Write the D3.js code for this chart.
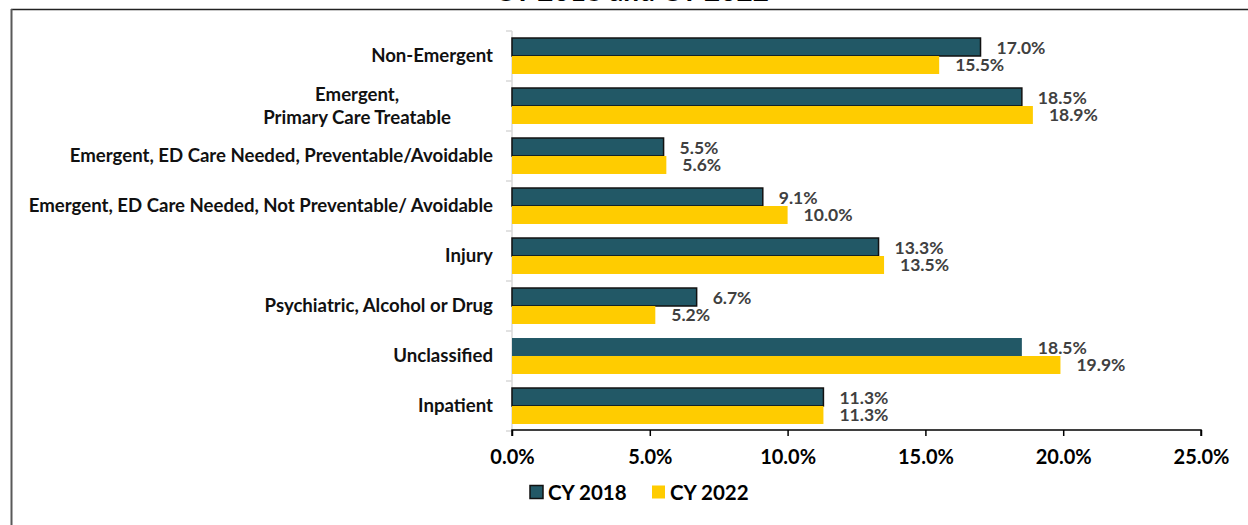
<!DOCTYPE html>
<html>
<head>
<meta charset="utf-8">
<script src="https://cdn.jsdelivr.net/npm/d3@7"></script>
<style>
  body { margin: 0; background: #fff; }
  svg { display: block; font-family: Lato, "Open Sans", sans-serif; font-weight: bold; }
</style>
</head>
<body>
<div id="graf"></div>
<script>
const categorias = [
  "Non-Emergent",
  "Emergent,|Primary Care Treatable",
  "Emergent, ED Care Needed, Preventable/Avoidable",
  "Emergent, ED Care Needed, Not Preventable/ Avoidable",
  "Injury",
  "Psychiatric, Alcohol or Drug",
  "Unclassified",
  "Inpatient"
]
const series = ["CY 2018", "CY 2022"]
const cy2018 = [17.0, 18.5, 5.5, 9.1, 13.3, 6.7, 18.5, 11.3]
const cy2022 = [15.5, 18.9, 5.6, 10.0, 13.5, 5.2, 19.9, 11.3]
const ticks = [0, 5, 10, 15, 20, 25]

const colores = { "CY 2018": "#225866", "CY 2022": "#FFCC00" }

const anchoTotal = 1248
const altoTotal = 525
const margins = { left: 512, top: 31, right: 47, bottom: 94 }
const ancho = anchoTotal - margins.left - margins.right
const alto = altoTotal - margins.top - margins.bottom

const svg = d3.select("#graf")
  .append("svg")
  .attr("width", anchoTotal)
  .attr("height", altoTotal)

// marco
svg.append("line")
  .attr("x1", 11).attr("x2", anchoTotal).attr("y1", 9.5).attr("y2", 9.5)
  .attr("stroke", "#222").attr("stroke-width", 1.5)
svg.append("line")
  .attr("x1", 11.5).attr("x2", 11.5).attr("y1", 9).attr("y2", altoTotal)
  .attr("stroke", "#595959").attr("stroke-width", 2)

// titulo (cortado arriba)
svg.append("text")
  .attr("x", 632).attr("y", 0.5)
  .attr("text-anchor", "middle")
  .attr("font-size", 28)
  .attr("fill", "#000")
  .text("CY 2018 and CY 2022")

const g = svg.append("g")
  .attr("transform", `translate(${margins.left}, ${margins.top})`)

const x = d3.scaleLinear().domain([0, 25]).range([0, ancho])
const y = d3.scaleBand().domain(categorias).range([0, alto])
const ySub = d3.scaleBand().domain(series).range([0, y.bandwidth()]).paddingOuter(0.39)

const data = categorias.map((c, i) => ({
  cat: c,
  valores: [
    { serie: "CY 2018", valor: cy2018[i] },
    { serie: "CY 2022", valor: cy2022[i] }
  ]
}))

// eje y (gris claro)
const yAxis = g.append("g").attr("class", "ejeY")
yAxis.append("line")
  .attr("x1", 0).attr("x2", 0).attr("y1", 0).attr("y2", alto)
  .attr("stroke", "#d9d9d9").attr("stroke-width", 1.5)
yAxis.selectAll(".tick")
  .data(d3.range(categorias.length + 1))
  .enter()
  .append("line")
  .attr("x1", -6).attr("x2", 0)
  .attr("y1", (d) => d * y.step()).attr("y2", (d) => d * y.step())
  .attr("stroke", "#d9d9d9").attr("stroke-width", 1.5)

// etiquetas de categorias
const etiquetas = g.selectAll(".cat")
  .data(categorias)
  .enter()
  .append("text")
  .attr("class", "cat")
  .attr("font-size", 18.6)
  .attr("fill", "#111")
  .attr("text-anchor", "middle")

etiquetas.each(function (d) {
  const t = d3.select(this)
  const lineas = d.split("|")
  const yc = y(d) + y.bandwidth() / 2 - 1
  lineas.forEach((l, j) => {
    t.append("tspan")
      .attr("dy", j == 0 ? 0 : 23)
      .text(l)
  })
  // ancho del bloque de texto
  const w = this.getBBox().width
  const cx = -19 - w / 2
  t.selectAll("tspan").attr("x", cx)
  t.attr("y", yc - (lineas.length - 1) * 11.5)
    .attr("dominant-baseline", "central")
})

// barras
const grupos = g.selectAll(".grupo")
  .data(data)
  .enter()
  .append("g")
  .attr("transform", (d) => `translate(0, ${y(d.cat)})`)

grupos.selectAll("rect")
  .data((d) => d.valores.map((v) => ({ ...v, cat: d.cat })))
  .enter()
  .append("rect")
  .attr("x", 0)
  .attr("y", (d) => ySub(d.serie))
  .attr("width", (d) => x(d.valor))
  .attr("height", ySub.bandwidth())
  .attr("fill", (d) => colores[d.serie])
  .attr("stroke", (d) => (d.serie == "CY 2018" && d.cat != "Unclassified") ? "#111" : "none")
  .attr("stroke-width", 1.5)

grupos.selectAll(".valor")
  .data((d) => d.valores)
  .enter()
  .append("text")
  .attr("class", "valor")
  .attr("x", (d) => x(d.valor) + 16)
  .attr("y", (d) => ySub(d.serie) + ySub.bandwidth() / 2)
  .attr("dominant-baseline", "central")
  .attr("font-size", 17.5)
  .attr("fill", "#404040")
  .text((d) => d.valor.toFixed(1) + "%")

// eje x
const xAxis = d3.axisBottom(x)
  .tickValues(ticks)
  .tickSize(6)
  .tickPadding(14)
  .tickFormat((d) => d.toFixed(1) + "%")

const ejeX = g.append("g")
  .attr("transform", `translate(0, ${alto - 1})`)
  .call(xAxis)
ejeX.select(".domain").attr("stroke", "#000").attr("stroke-width", 1.5)
  .attr("d", `M0,6V0H${ancho}V6`)
ejeX.selectAll(".tick line").attr("stroke", "#000").attr("stroke-width", 1.5)
ejeX.selectAll("text")
  .attr("font-size", 20)
  .attr("font-family", "Lato, sans-serif")
  .attr("font-weight", "bold")
  .attr("fill", "#000")

// leyenda
const leyenda = svg.append("g")
  .attr("transform", "translate(530, 492)")
const itemX = [0, 122]
series.forEach((s, i) => {
  const it = leyenda.append("g").attr("transform", `translate(${itemX[i]}, 0)`)
  it.append("rect")
    .attr("x", 0).attr("y", -6.5)
    .attr("width", 13).attr("height", 13)
    .attr("fill", colores[s])
    .attr("stroke", i == 0 ? "#111" : "none")
    .attr("stroke-width", 1.5)
  it.append("text")
    .attr("x", 18).attr("y", 0)
    .attr("dominant-baseline", "central")
    .attr("font-size", 20.5)
    .attr("fill", "#000")
    .text(s)
})
</script>
</body>
</html>
